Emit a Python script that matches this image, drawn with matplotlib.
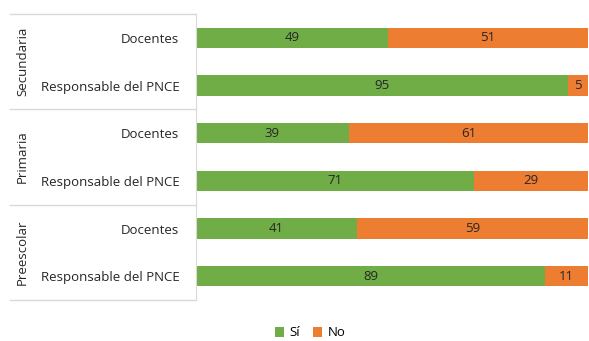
import matplotlib.pyplot as plt
import numpy as np

plt.rcParams['font.family'] = ['Open Sans', 'DejaVu Sans']

# data, bottom to top
niveles = ['Preescolar', 'Primaria', 'Secundaria']
roles = ['Responsable del PNCE', 'Docentes']
si = [89, 41, 71, 39, 95, 49]
no = [11, 59, 29, 61, 5, 51]
etiquetas = roles * 3

W, H = 589, 341
fig = plt.figure(figsize=(W / 100, H / 100), dpi=100)
ax = fig.add_axes([196 / W, 1 - 300 / H, (588 - 196) / W, (300 - 14) / H])

y = np.arange(len(si))
green, orange = '#70AD47', '#ED7D31'
b1 = ax.barh(y, si, height=0.42, color=green, label='Sí')
b2 = ax.barh(y, no, left=si, height=0.42, color=orange, label='No')
for bars, vals, lefts in [(b1, si, [0] * 6), (b2, no, si)]:
    for bar, v, l in zip(bars, vals, lefts):
        ax.text(l + v / 2, bar.get_y() + bar.get_height() / 2, str(v),
                ha='center', va='center', fontsize=9.5, color='#262626')

ax.set_xlim(0, 100)
ax.set_ylim(-0.5, 5.5)
ax.set_xticks([])
ax.set_yticks(y)
ax.set_yticklabels(etiquetas, fontsize=9.5, color='#262626')
ax.tick_params(axis='y', length=0, pad=12)
for s in ['top', 'right', 'bottom']:
    ax.spines[s].set_visible(False)
ax.spines['left'].set_color('#d9d9d9')

# group separators and level labels
x0 = -(196 - 10) / (588 - 196) * 100
for b in [-0.5, 1.5, 3.5, 5.5]:
    ax.plot([x0, 0], [b, b], color='#d9d9d9', lw=1, clip_on=False)
for i, nivel in enumerate(niveles):
    ax.text(x0 + 3.2, 2 * i + 0.5, nivel, rotation=90, ha='center', va='center',
            fontsize=9.5, color='#262626', clip_on=False)

fig.legend(handles=[b1, b2], loc='center', bbox_to_anchor=(310 / W, 1 - 333 / H),
           ncol=2, frameon=False, fontsize=9.5, handlelength=0.7, handleheight=0.7,
           columnspacing=1.0, handletextpad=0.4)

fig.savefig('out.png', dpi=100)
